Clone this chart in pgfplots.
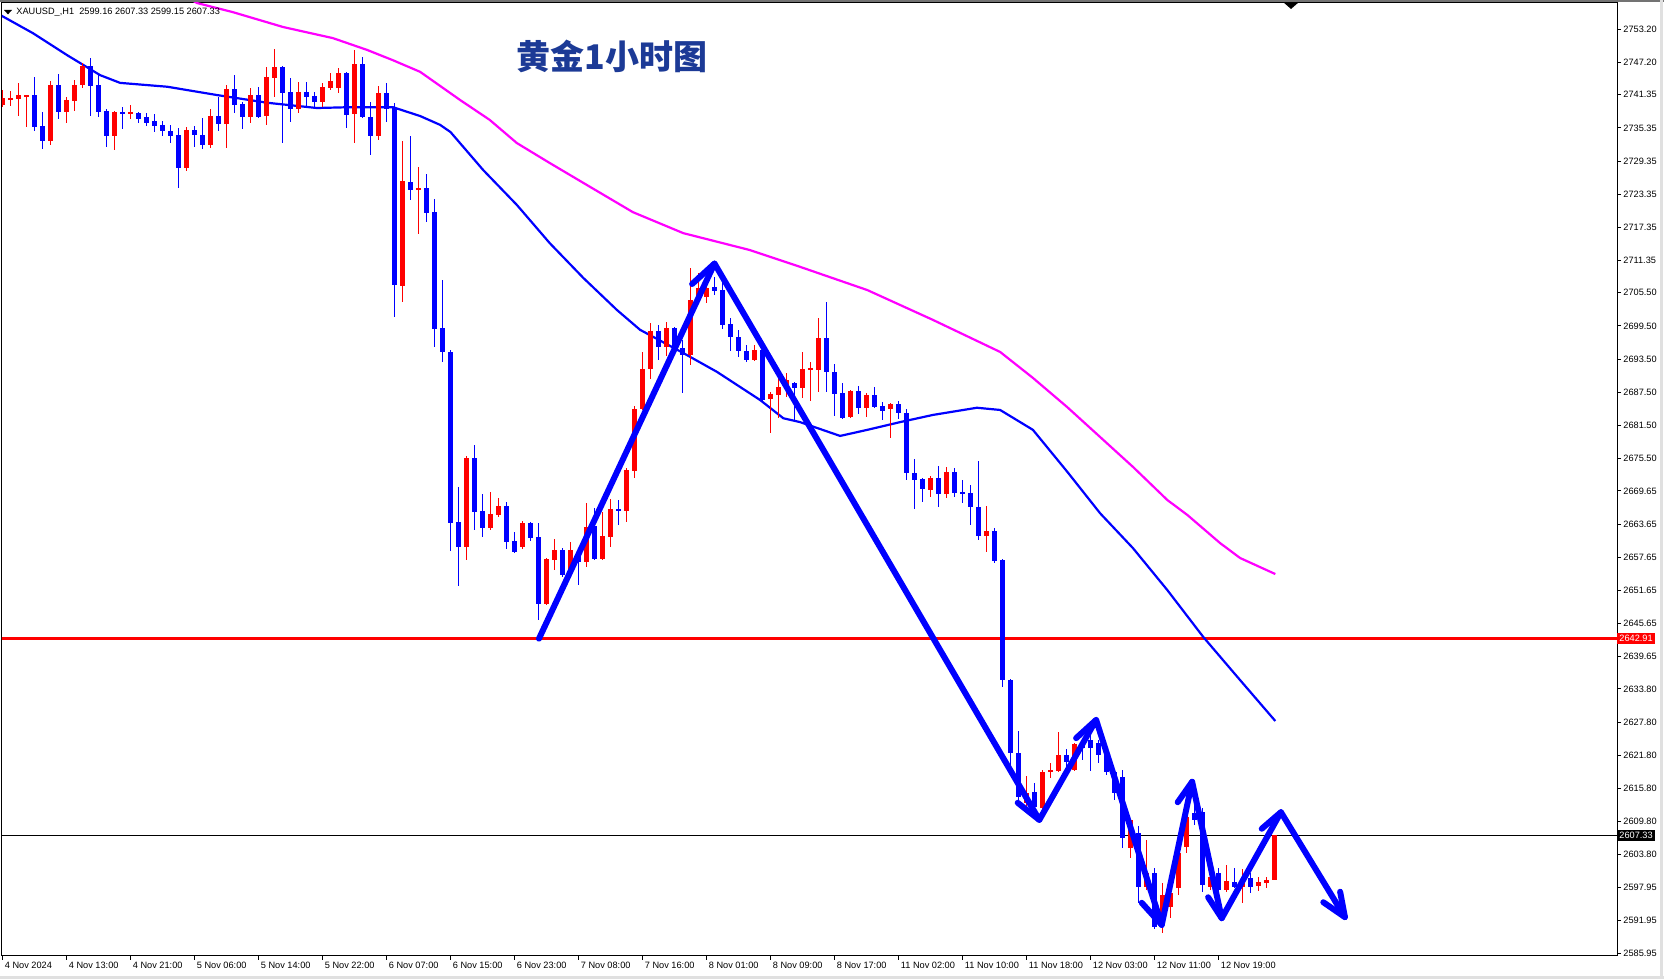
\documentclass[border=0pt]{standalone}
\usepackage{pgfplots}
\pgfplotsset{compat=1.18}
\usepackage{pgfplotstable}
\usepackage{fontspec}
\setmainfont{Liberation Sans}
\newfontfamily\cjk{Noto Sans CJK SC}
\definecolor{upcol}{RGB}{255,0,0}
\definecolor{dncol}{RGB}{0,0,255}
\definecolor{macol}{RGB}{255,0,255}
\definecolor{titlecol}{RGB}{28,58,150}
\newcommand\tickfont{\fontsize{4.6pt}{5pt}\selectfont}

% XAUUSD H1 candles: x = bar index, o h l c
\pgfplotstableread{
x o h l c
0 2739.49 2742.21 2739.13 2740.76
1 2740.58 2742.03 2739.31 2740.76
2 2740.58 2743.48 2737.50 2741.30
3 2741.12 2741.40 2735.51 2741.30
6 2732.98 2743.84 2732.25 2743.11
8 2738.23 2740.94 2736.24 2740.40
9 2740.22 2744.02 2738.41 2743.11
10 2743.11 2747.10 2742.57 2746.55
14 2733.88 2738.50 2731.35 2738.23
16 2738.05 2739.49 2736.96 2738.23
23 2728.09 2735.51 2727.55 2734.97
26 2732.25 2738.77 2731.71 2737.50
28 2736.06 2743.11 2731.71 2742.39
31 2737.32 2742.57 2736.24 2741.30
33 2737.50 2746.37 2735.87 2744.56
34 2744.38 2749.63 2740.94 2746.37
37 2738.77 2743.66 2738.05 2741.85
40 2740.04 2743.48 2739.13 2742.75
41 2742.57 2745.29 2742.21 2743.84
42 2742.57 2746.19 2741.67 2745.29
44 2737.87 2749.45 2732.62 2746.92
47 2733.88 2742.93 2733.16 2741.67
50 2706.73 2732.98 2703.84 2725.74
52 2724.11 2728.27 2716.15 2724.47
58 2659.49 2675.96 2657.14 2675.60
61 2662.93 2669.45 2662.57 2665.47
62 2665.28 2668.36 2664.92 2666.91
65 2659.49 2664.20 2659.13 2663.84
68 2649.18 2657.50 2649.00 2657.32
69 2657.14 2660.94 2655.33 2658.95
71 2655.33 2660.40 2654.42 2658.95
73 2656.78 2667.46 2655.87 2663.11
75 2657.32 2665.83 2657.14 2661.48
76 2661.30 2668.18 2659.49 2666.37
78 2666.01 2673.79 2664.02 2673.43
79 2673.25 2685.01 2671.98 2684.47
80 2684.47 2694.79 2684.29 2691.71
81 2691.71 2700.04 2689.90 2698.59
83 2695.69 2700.22 2694.06 2699.13
86 2694.24 2709.99 2692.43 2704.20
87 2704.20 2709.09 2703.66 2706.37
88 2704.74 2707.46 2703.66 2706.37
94 2693.34 2696.05 2693.20 2695.15
96 2686.28 2687.55 2680.13 2687.19
97 2687.00 2690.26 2682.84 2688.45
98 2688.45 2690.99 2686.64 2689.72
100 2688.27 2694.79 2686.46 2691.71
101 2691.71 2692.98 2685.92 2691.89
102 2691.53 2700.94 2687.55 2697.32
106 2683.02 2687.90 2682.90 2687.73
108 2684.65 2687.37 2683.02 2687.00
111 2684.47 2685.56 2679.22 2685.38
116 2669.81 2672.34 2668.54 2671.98
118 2669.09 2673.97 2668.36 2673.07
123 2661.48 2666.91 2658.59 2662.39
128 2613.16 2618.04 2611.89 2614.97
130 2612.25 2619.13 2611.35 2618.77
131 2618.77 2620.40 2617.68 2619.13
132 2618.95 2626.00 2618.80 2621.84
134 2619.13 2624.02 2618.95 2623.84
141 2605.01 2610.30 2603.20 2610.08
143 2597.95 2606.46 2597.41 2600.49
145 2591.44 2598.68 2589.63 2596.50
146 2594.33 2597.41 2592.34 2596.87
147 2597.77 2604.65 2596.50 2604.11
148 2605.19 2611.53 2604.11 2610.62
151 2597.95 2600.12 2597.41 2599.76
153 2597.41 2601.93 2597.05 2599.04
155 2597.95 2601.21 2595.06 2598.68
157 2598.13 2599.76 2597.23 2598.86
158 2598.68 2599.76 2597.77 2599.22
159 2599.16 2607.33 2599.15 2607.33
}\upbars

\pgfplotstableread{
x o h l c
4 2741.30 2744.56 2734.79 2735.51
5 2735.69 2738.23 2731.53 2732.98
7 2743.11 2745.11 2736.96 2738.23
11 2746.55 2748.00 2737.50 2742.93
12 2743.11 2745.29 2737.32 2738.23
13 2738.41 2738.77 2731.89 2733.88
15 2738.23 2739.13 2735.15 2737.87
17 2738.05 2738.23 2736.24 2736.96
18 2737.32 2738.05 2735.69 2736.24
19 2736.60 2737.87 2734.61 2735.69
20 2735.87 2736.60 2733.88 2734.79
21 2734.79 2735.87 2732.62 2733.88
22 2734.06 2735.33 2724.47 2728.09
24 2734.97 2735.69 2731.89 2734.06
25 2734.06 2737.14 2731.53 2732.25
27 2737.50 2740.94 2734.79 2736.06
29 2742.39 2744.92 2738.05 2739.49
30 2739.68 2740.04 2735.15 2737.32
32 2741.30 2742.75 2737.14 2737.32
35 2746.37 2746.50 2732.62 2741.67
36 2741.85 2744.38 2736.42 2738.77
38 2741.85 2743.66 2739.31 2740.94
39 2741.12 2741.85 2739.13 2740.04
43 2745.29 2745.47 2735.33 2737.68
45 2746.92 2748.18 2737.20 2737.32
46 2737.32 2740.04 2730.44 2733.88
48 2741.67 2743.48 2736.42 2738.77
49 2738.95 2739.86 2701.12 2706.91
51 2725.56 2733.88 2722.30 2724.11
53 2724.47 2727.01 2718.32 2719.95
54 2720.13 2722.48 2695.69 2698.95
55 2699.13 2707.82 2692.98 2694.79
56 2694.79 2695.15 2658.77 2663.84
57 2664.02 2670.35 2652.43 2659.49
59 2675.60 2677.95 2662.57 2665.83
60 2666.01 2669.09 2661.30 2662.93
63 2666.91 2667.64 2659.13 2660.40
64 2660.58 2662.21 2658.40 2658.59
66 2663.84 2664.02 2660.58 2661.12
67 2661.30 2663.84 2646.28 2649.18
70 2658.95 2659.31 2654.06 2654.42
72 2658.23 2658.40 2652.61 2656.78
74 2663.29 2666.55 2657.14 2657.32
77 2666.37 2668.00 2663.47 2666.01
82 2698.59 2699.67 2693.34 2695.69
84 2699.13 2699.31 2694.61 2695.69
85 2695.51 2696.96 2687.37 2694.24
89 2706.55 2708.36 2705.10 2705.83
90 2706.01 2707.46 2698.95 2699.67
91 2699.86 2700.94 2694.97 2697.50
92 2697.50 2698.77 2693.88 2694.97
93 2694.97 2696.05 2692.98 2693.34
95 2695.15 2695.51 2685.74 2686.10
99 2689.18 2689.30 2682.48 2688.27
103 2697.32 2703.84 2687.55 2691.17
104 2691.17 2692.62 2683.20 2687.19
105 2687.37 2689.18 2682.70 2682.84
107 2687.73 2688.63 2683.57 2684.65
109 2687.00 2688.45 2684.65 2684.83
110 2685.01 2685.74 2682.48 2684.11
112 2685.38 2685.92 2682.66 2683.75
113 2683.75 2684.47 2671.62 2672.89
114 2672.89 2675.42 2666.37 2671.62
115 2671.80 2671.90 2667.64 2669.99
117 2671.98 2674.15 2666.73 2669.09
119 2673.07 2673.79 2668.54 2669.27
120 2669.45 2671.62 2667.46 2669.27
121 2669.27 2670.71 2663.47 2666.73
122 2666.73 2675.06 2660.76 2661.48
124 2662.39 2662.93 2656.60 2656.96
125 2657.14 2657.30 2634.15 2635.42
126 2635.42 2635.60 2619.13 2622.21
127 2622.21 2626.19 2613.70 2614.24
129 2615.15 2616.78 2612.25 2612.43
133 2621.84 2622.93 2619.13 2620.58
135 2623.84 2624.56 2620.94 2623.11
136 2624.56 2625.50 2618.95 2623.11
137 2624.02 2624.56 2620.40 2621.84
138 2621.84 2622.39 2618.22 2618.77
139 2618.77 2619.13 2613.70 2614.97
140 2617.86 2619.13 2605.01 2606.82
142 2607.73 2608.99 2595.06 2597.95
144 2600.49 2601.39 2590.35 2590.71
149 2611.35 2612.79 2609.17 2610.08
150 2611.53 2612.25 2597.05 2598.32
152 2600.49 2601.39 2596.50 2597.41
154 2598.86 2601.39 2597.77 2597.95
156 2599.58 2600.49 2596.87 2597.95
}\dnbars

\pgfplotsset{
  wick/.style={only marks, mark=none, mark size=0pt, mark options={draw=none, fill=none}, forget plot,
    error bars/y dir=both, error bars/y explicit, error bars/error mark=none,
    error bars/error bar style={#1, line width=0.5pt}},
  body/.style={only marks, mark=none, mark size=0pt, mark options={draw=none, fill=none}, forget plot,
    error bars/y dir=both, error bars/y explicit, error bars/error mark=none,
    error bars/error bar style={#1, line width=2.5pt, line cap=butt}},
  pen/.style={dncol, line width=3pt, line cap=round, line join=round, forget plot},
}

\begin{document}
\begin{tikzpicture}
\begin{axis}[
  at={(1pt,11.5pt)}, anchor=south west, scale only axis,
  width=807.5pt, height=476.5pt,
  xmin=-0.0625, xmax=201.81, ymin=2585.47, ymax=2757.96,
  axis line style={black, line width=0.5pt},
  clip mode=individual,
  xtick={0,8,...,152},
  xticklabels={4 Nov 2024,4 Nov 13:00,4 Nov 21:00,5 Nov 06:00,5 Nov 14:00,5 Nov 22:00,6 Nov 07:00,6 Nov 15:00,6 Nov 23:00,7 Nov 08:00,7 Nov 16:00,8 Nov 01:00,8 Nov 09:00,8 Nov 17:00,11 Nov 02:00,11 Nov 10:00,11 Nov 18:00,12 Nov 03:00,12 Nov 11:00,12 Nov 19:00},
  ytick={2585.95,2591.95,2597.95,2603.80,2609.80,2615.80,2621.80,2627.80,2633.80,2639.65,2645.65,2651.65,2657.65,2663.65,2669.65,2675.50,2681.50,2687.50,2693.50,2699.50,2705.50,2711.35,2717.35,2723.35,2729.35,2735.35,2741.35,2747.20,2753.20},
  yticklabels={2585.95,2591.95,2597.95,2603.80,2609.80,2615.80,2621.80,2627.80,2633.80,2639.65,2645.65,2651.65,2657.65,2663.65,2669.65,2675.50,2681.50,2687.50,2693.50,2699.50,2705.50,2711.35,2717.35,2723.35,2729.35,2735.35,2741.35,2747.20,2753.20},
  tick align=outside, major tick length=2pt,
  tick style={black, line width=0.5pt},
  xtick pos=bottom, ytick pos=right, yticklabel pos=right,
  ticklabel style={font=\tickfont, inner sep=1pt},
  xticklabel style={anchor=north west},
  yticklabel style={anchor=west},
  /pgf/number format/assume math mode=true,
]
% support line and current price
\addplot[upcol, line width=1.75pt, forget plot] coordinates {(-1,2642.91) (203,2642.91)};
\addplot[black, line width=0.5pt, forget plot] coordinates {(-1,2607.33) (203,2607.33)};

% moving averages
\addplot[dncol, line width=1.1pt, forget plot] coordinates {
(-0.3,2755.8)(3.8,2752.5)(8.1,2748.5)(12.2,2744.9)(14.7,2743.5)(20.6,2742.8)(26.8,2741.3)
(33.1,2739.9)(39.3,2738.95)(43.4,2739.1)(48.8,2739.1)(52.2,2737.5)(54.7,2735.9)(56,2734.6)
(60.1,2727.7)(64.3,2721.4)(68.4,2714.5)(72.6,2708.2)(76.8,2702.4)(79.7,2698.8)(85.1,2694.6)
(89.3,2691.2)(94.7,2686.1)(97.6,2682.8)(99.7,2682.1)(104.7,2679.6)(108.1,2680.7)(112.2,2682.1)
(116.3,2683.4)(121.8,2684.7)(124.7,2684.3)(128.8,2680.7)(133.1,2673.1)(137.2,2665.6)
(141.3,2659.3)(145.6,2651.7)(150.1,2643.2)(154.7,2635.4)(159.1,2628.0)};
\addplot[macol, line width=1.1pt, forget plot] coordinates {
(22.5,2759.5)(24.3,2757.96)(28.8,2756.3)(35.1,2753.6)(41.3,2751.6)(45.6,2749.45)(48.8,2747.6)
(52.2,2745.5)(57.2,2740.4)(60.9,2736.8)(64.3,2732.6)(68.4,2729.0)(72.6,2725.4)(78.8,2720.1)
(85.1,2716.3)(93.4,2713.25)(99.7,2710.2)(108.1,2706.0)(116.3,2700.6)(124.7,2694.8)(128.8,2690.1)
(133.1,2684.8)(137.2,2679.4)(141.3,2674.0)(145.6,2668.0)(148.1,2665.3)(152.2,2660.2)
(154.7,2657.5)(159.1,2654.6)};

% candles
\addplot[wick=upcol] table[x=x, y expr={(\thisrow{h}+\thisrow{l})/2}, y error expr={(\thisrow{h}-\thisrow{l})/2}] {\upbars};
\addplot[body=upcol] table[x=x, y expr={(\thisrow{o}+\thisrow{c})/2}, y error expr={max(abs(\thisrow{c}-\thisrow{o})/2,0.1)}] {\upbars};
\addplot[wick=dncol] table[x=x, y expr={(\thisrow{h}+\thisrow{l})/2}, y error expr={(\thisrow{h}-\thisrow{l})/2}] {\dnbars};
\addplot[body=dncol] table[x=x, y expr={(\thisrow{o}+\thisrow{c})/2}, y error expr={max(abs(\thisrow{c}-\thisrow{o})/2,0.1)}] {\dnbars};

% hand-drawn zigzag arrows
\addplot[pen] coordinates {(67.06,2642.91)(89.0,2710.8)(129.6,2610.1)(136.7,2628.2)(144.9,2591.1)(148.7,2617.0)(152.4,2592.3)(159.8,2611.5)(167.8,2592.5)};
\addplot[pen] coordinates {(86.2,2707.1)(89.0,2710.8)};
\addplot[pen] coordinates {(126.9,2613.2)(129.6,2610.1)};
\addplot[pen] coordinates {(134.2,2624.9)(136.7,2628.2)};
\addplot[pen] coordinates {(142.4,2595.1)(144.9,2591.1)};
\addplot[pen] coordinates {(146.9,2613.3)(148.7,2617.0)};
\addplot[pen] coordinates {(150.7,2596.1)(152.4,2592.3)};
\addplot[pen] coordinates {(157.4,2608.5)(159.8,2611.5)};
\addplot[pen] coordinates {(165.1,2595.2)(167.8,2592.5)(167.2,2597.1)};

% price tags on the scale
\node[fill=upcol, text=white, anchor=west, font=\tickfont, inner xsep=1pt, inner ysep=1.2pt] at (axis cs:201.81,2642.91) {2642.91};
\node[fill=black, text=white, anchor=west, font=\tickfont, inner xsep=1pt, inner ysep=1.2pt] at (axis cs:201.81,2607.33) {2607.33};
\end{axis}

% header, title and window frame
\fill (2pt,484.5pt) -- (6pt,484.5pt) -- (4pt,482.3pt) -- cycle;
\node[anchor=west, inner sep=0pt, font=\tickfont] at (8pt,483.6pt) {XAUUSD\_,H1\ \ 2599.16 2607.33 2599.15 2607.33};
\node[font=\cjk\bfseries\fontsize{17pt}{19pt}\selectfont, text=titlecol] at (306pt,461.5pt) {黄金1小时图};
\fill (641.5pt,488.5pt) -- (649.5pt,488.5pt) -- (645.5pt,485pt) -- cycle;
\draw[black!55, line width=0.8pt] (0,489.1pt) -- (832pt,489.1pt);
\draw[black!12, line width=1.5pt] (830.8pt,0) -- (830.8pt,489.5pt);
\draw[black!12, line width=1.5pt] (0,0.8pt) -- (832pt,0.8pt);
\pgfresetboundingbox
\path (0,0) rectangle (832pt,489.5pt);
\end{tikzpicture}
\end{document}
